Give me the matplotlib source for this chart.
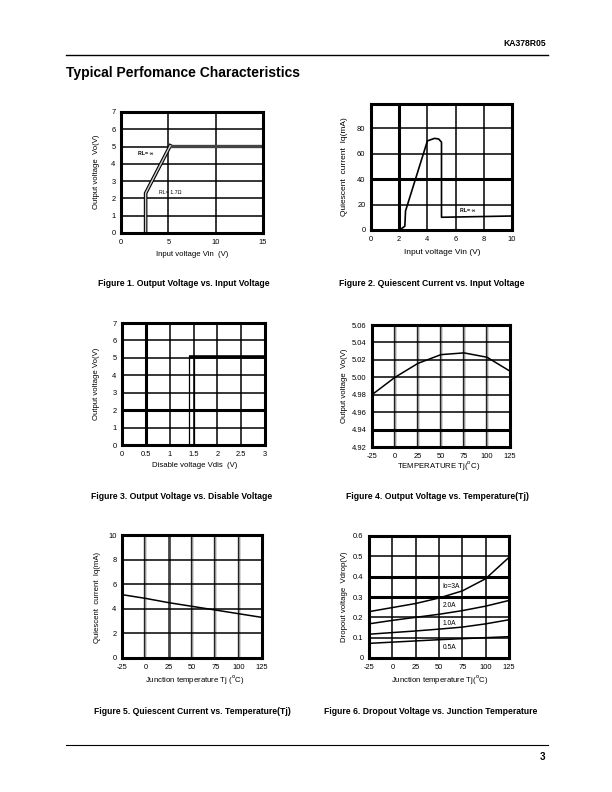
import matplotlib
matplotlib.use("Agg")
import matplotlib.pyplot as plt

plt.rcParams['font.family'] = ['Liberation Sans', 'DejaVu Sans']
plt.rcParams['axes.unicode_minus'] = False

# ---- data ----
# Fig 1: Vo vs Vin
f1_vin = [2.6, 2.6, 5.2, 15]
f1_vo = [0, 2.3, 5.05, 5.05]

# Fig 2: Iq vs Vin
f2_vin = [2.0, 2.1, 2.4, 2.45, 4.0, 4.5, 4.8, 5.0, 5.0, 10]
f2_iq = [0, 0.5, 3, 15, 70, 72, 71.5, 69, 10, 11]

# Fig 3: Vo vs Vdis
f3_vdis_a = [1.4, 1.4]
f3_vdis_b = [1.51, 1.51]
f3_vo_edge = [0, 5.1]
f3_hi_x = [1.4, 3.0]
f3_hi_y = [5.07, 5.07]

# Fig 4: Vo vs Tj
f4_tj = [-25, 0, 25, 50, 75, 100, 125]
f4_vo = [4.980, 5.000, 5.016, 5.026, 5.028, 5.023, 5.007]

# Fig 5: Iq vs Tj
f5_tj = [-25, 0, 25, 50, 75, 100, 125]
f5_iq = [5.15, 4.85, 4.5, 4.2, 3.9, 3.6, 3.3]

# Fig 6: dropout vs Tj
f6_tj = [-25, 0, 25, 50, 75, 100, 125]
f6_3a = [0.228, 0.248, 0.268, 0.295, 0.33, 0.39, 0.495]
f6_2a = [0.168, 0.185, 0.200, 0.215, 0.233, 0.255, 0.283]
f6_1a = [0.117, 0.125, 0.133, 0.142, 0.152, 0.168, 0.188]
f6_05a = [0.072, 0.078, 0.084, 0.090, 0.095, 0.100, 0.105]

W, H = 612, 792
fig = plt.figure(figsize=(W / 100, H / 100), dpi=100)

TICK = 5.4
LAB = 5.6
THIN = 1.1
THICK = 2.2


def ax_at(l, t, r, b):
    return fig.add_axes([l / W, 1 - b / H, (r - l) / W, (b - t) / H])


def ftext(x, y, s, **kw):
    fig.text(x / W, 1 - y / H, s, **kw)


def setup(ax, xlim, ylim, xticks, yticks, xlabels=None, ylabels=None):
    ax.set_xlim(*xlim)
    ax.set_ylim(*ylim)
    ax.set_xticks(xticks)
    ax.set_yticks(yticks)
    if xlabels is not None:
        ax.set_xticklabels(xlabels)
    if ylabels is not None:
        ax.set_yticklabels(ylabels)
    ax.tick_params(length=0, labelsize=TICK, pad=4)
    for s in ax.spines.values():
        s.set_linewidth(THICK)
        s.set_zorder(5)


def vgrid(ax, vals, thick=()):
    for v in vals:
        ax.axvline(v, color='black', lw=THICK if v in thick else THIN, zorder=1)


def hgrid(ax, vals, thick=()):
    for v in vals:
        ax.axhline(v, color='black', lw=THICK if v in thick else THIN, zorder=1)


def grey_vgrid(ax, vals, dark=()):
    for v in vals:
        if v in dark:
            ax.axvline(v, color='#444444', lw=2.0, zorder=1)
        else:
            ax.axvline(v, color='#222222', lw=1.7, zorder=1)
            ax.axvline(v, color='#aaaaaa', lw=0.6, zorder=1)


# header / footer
ftext(546, 44, "KA378R05", fontsize=6.2, fontweight='bold', ha='right', va='center')
fig.add_artist(plt.Line2D([66 / W, 548 / W], [1 - 55 / H, 1 - 55 / H], color='black', lw=1.0))
ftext(66, 73, "Typical Perfomance Characteristics", fontsize=10, fontweight='bold', ha='left', va='center')
fig.add_artist(plt.Line2D([66 / W, 548 / W], [1 - 745 / H, 1 - 745 / H], color='black', lw=0.8))
ftext(545, 757, "3", fontsize=7, fontweight='bold', ha='right', va='center')

# ---- Figure 1 ----
ax1 = ax_at(121, 112, 263, 233)
setup(ax1, (0, 15), (0, 7), [0, 5, 10, 15], range(8))
vgrid(ax1, [5, 10])
hgrid(ax1, [1, 2, 3, 4, 5, 6])
ax1.plot(f1_vin[:3], f1_vo[:3], color='black', lw=2.6, zorder=3, solid_joinstyle='miter')
ax1.plot(f1_vin[:3], f1_vo[:3], color='#cccccc', lw=1.0, zorder=4)
ax1.plot(f1_vin[2:], f1_vo[2:], color='#444444', lw=2.4, zorder=3)
ax1.text(1.8, 4.6, "RL= ∞", fontsize=3.8, fontweight='bold', va='center')
ax1.text(4.0, 2.37, "RL= 1.7Ω", fontsize=3.8, va='center')
ftext(97, 172, "Output voltage  Vo(V)", fontsize=LAB, rotation=90, ha='center', va='center')
ftext(192, 254, "Input voltage Vin  (V)", fontsize=LAB, ha='center', va='center')
ftext(184, 284, "Figure 1. Output Voltage vs. Input Voltage", fontsize=6.2, fontweight='bold', ha='center', va='center')

# ---- Figure 2 ----
ax2 = ax_at(371, 104, 512, 230)
setup(ax2, (0, 10), (0, 99), [0, 2, 4, 6, 8, 10], [0, 20, 40, 60, 80])
vgrid(ax2, [2, 4, 6, 8], thick=(2,))
hgrid(ax2, [20, 40, 60, 80], thick=(40,))
ax2.plot(f2_vin, f2_iq, color='black', lw=1.2, zorder=3)
ax2.text(6.3, 15.7, "RL= ∞", fontsize=3.8, fontweight='bold', va='center')
ftext(345, 167, "Quiescent  current  Iq(mA)", fontsize=LAB + 0.4, rotation=90, ha='center', va='center')
ftext(442, 253, "Input voltage Vin (V)", fontsize=LAB + 0.4, ha='center', va='center')
ftext(432, 284, "Figure 2. Quiescent Current vs. Input Voltage", fontsize=6.2, fontweight='bold', ha='center', va='center')

# ---- Figure 3 ----
ax3 = ax_at(122, 323, 265, 445)
setup(ax3, (0, 3), (0, 7), [0, 0.5, 1, 1.5, 2, 2.5, 3], range(8),
      xlabels=["0", "0.5", "1", "1.5", "2", "2.5", "3"])
vgrid(ax3, [0.5, 1, 1.5, 2, 2.5], thick=(0.5,))
hgrid(ax3, [1, 2, 3, 4, 5, 6], thick=(2,))
ax3.plot(f3_vdis_a, f3_vo_edge, color='black', lw=0.9, zorder=3)
ax3.plot(f3_vdis_b, f3_vo_edge, color='black', lw=0.9, zorder=3)
ax3.plot(f3_hi_x, f3_hi_y, color='black', lw=2.6, zorder=3, solid_capstyle='butt')
ftext(97, 384, "Output voltage Vo(V)", fontsize=LAB, rotation=90, ha='center', va='center')
ftext(195, 466, "Disable voltage Vdis  (V)", fontsize=LAB, ha='center', va='center')
ftext(182, 497, "Figure 3. Output Voltage vs. Disable Voltage", fontsize=6.2, fontweight='bold', ha='center', va='center')

# ---- Figure 4 ----
ax4 = ax_at(372, 325, 510, 447)
setup(ax4, (-25, 125), (4.92, 5.06), [-25, 0, 25, 50, 75, 100, 125],
      [4.92, 4.94, 4.96, 4.98, 5.00, 5.02, 5.04, 5.06],
      ylabels=["4.92", "4.94", "4.96", "4.98", "5.00", "5.02", "5.04", "5.06"])
grey_vgrid(ax4, [0, 25, 50, 75, 100])
hgrid(ax4, [4.94, 4.96, 4.98, 5.00, 5.02, 5.04], thick=(4.94,))
ax4.plot(f4_tj, f4_vo, color='black', lw=1.1, zorder=3)
ftext(345, 386, "Output voltage  Vo(V)", fontsize=LAB, rotation=90, ha='center', va='center')
ftext(439, 466, r"TEMPERATURE Tj($^{\rm o}$C)", fontsize=LAB, ha='center', va='center')
ftext(437, 497, "Figure 4. Output Voltage vs. Temperature(Tj)", fontsize=6.2, fontweight='bold', ha='center', va='center')

# ---- Figure 5 ----
ax5 = ax_at(122, 535, 262, 658)
setup(ax5, (-25, 125), (0, 10), [-25, 0, 25, 50, 75, 100, 125], [0, 2, 4, 6, 8, 10])
grey_vgrid(ax5, [0, 25, 50, 75, 100], dark=(25,))
hgrid(ax5, [2, 4, 6, 8])
ax5.plot(f5_tj, f5_iq, color='black', lw=1.1, zorder=3)
ftext(98, 597, "Quiescent  current  Iq(mA)", fontsize=LAB, rotation=90, ha='center', va='center')
ftext(195, 680, r"Junction temperature Tj ($^{\rm o}$C)", fontsize=LAB, ha='center', va='center')
ftext(192, 711, "Figure 5. Quiescent Current vs. Temperature(Tj)", fontsize=6.2, fontweight='bold', ha='center', va='center')

# ---- Figure 6 ----
ax6 = ax_at(369, 536, 509, 658)
setup(ax6, (-25, 125), (0, 0.6), [-25, 0, 25, 50, 75, 100, 125],
      [0, 0.1, 0.2, 0.3, 0.4, 0.5, 0.6],
      ylabels=["0", "0.1", "0.2", "0.3", "0.4", "0.5", "0.6"])
vgrid(ax6, [0, 25, 50, 75, 100])
hgrid(ax6, [0.1, 0.2, 0.3, 0.4, 0.5], thick=(0.3, 0.4))
for series in (f6_3a, f6_2a, f6_1a, f6_05a):
    ax6.plot(f6_tj, series, color='black', lw=1.1, zorder=3)
ax6.text(54, 0.35, "Io=3A", fontsize=4.8, va='center', zorder=4)
ax6.text(54, 0.256, "2.0A", fontsize=4.8, va='center', zorder=4)
ax6.text(54, 0.172, "1.0A", fontsize=4.8, va='center', zorder=4)
ax6.text(54, 0.054, "0.5A", fontsize=4.8, va='center', zorder=4)
ftext(345, 597, "Dropout voltage  Vdrop(V)", fontsize=LAB, rotation=90, ha='center', va='center')
ftext(440, 680, r"Junction temperature Tj($^{\rm o}$C)", fontsize=LAB, ha='center', va='center')
ftext(431, 711, "Figure 6. Dropout Voltage vs. Junction Temperature", fontsize=6.2, fontweight='bold', ha='center', va='center')

fig.savefig("out.png", dpi=100)
